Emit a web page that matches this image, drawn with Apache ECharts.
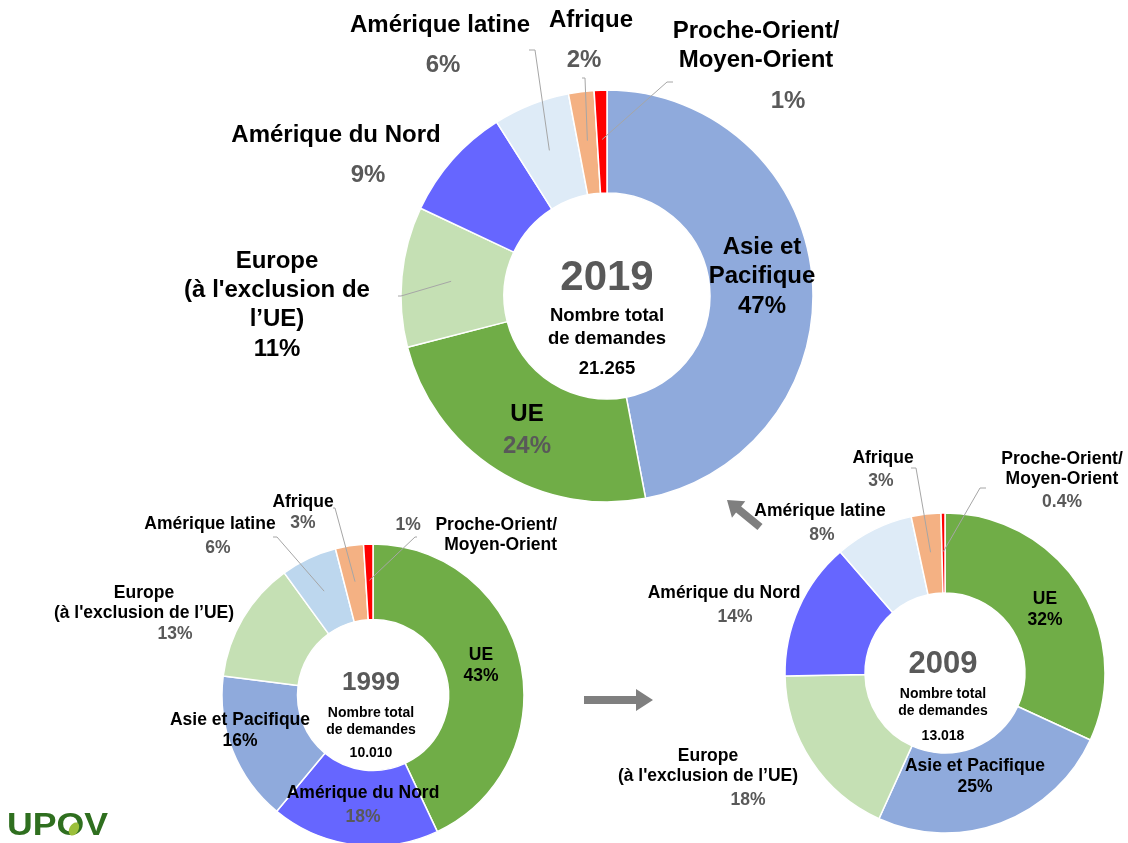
<!DOCTYPE html>
<html>
<head>
<meta charset="utf-8">
<script src="https://cdn.jsdelivr.net/npm/echarts@6/dist/echarts.min.js"></script>
<style>
  html, body { margin: 0; padding: 0; background: #fff; }
  #chart { width: 1128px; height: 843px; }
</style>
</head>
<body>
<div id="chart"></div>
<script>
// slices, clockwise from 12 o'clock
const names2019 = ['Asie et\nPacifique', 'UE', "Europe\n(à l'exclusion de\nl’UE)", 'Amérique du Nord', 'Amérique latine', 'Afrique', 'Proche-Orient/\nMoyen-Orient'];
const values2019 = [47, 24, 11, 9, 6, 2, 1];
const colors2019 = ['#8FAADC', '#70AD47', '#C5E0B4', '#6666FF', '#DEEBF7', '#F4B183', '#FF0000'];

const names1999 = ['UE', 'Amérique du Nord', 'Asie et Pacifique', "Europe\n(à l'exclusion de l’UE)", 'Amérique latine', 'Afrique', 'Proche-Orient/\nMoyen-Orient'];
const values1999 = [43, 18, 16, 13, 6, 3, 1];
const colors1999 = ['#70AD47', '#6666FF', '#8FAADC', '#C5E0B4', '#BDD7EE', '#F4B183', '#FF0000'];

const names2009 = ['UE', 'Asie et Pacifique', "Europe\n(à l'exclusion de l’UE)", 'Amérique du Nord', 'Amérique latine', 'Afrique', 'Proche-Orient/\nMoyen-Orient'];
const values2009 = [32, 25, 18, 14, 8, 3, 0.4];
const colors2009 = ['#70AD47', '#8FAADC', '#C5E0B4', '#6666FF', '#DEEBF7', '#F4B183', '#FF0000'];

const years = ['1999', '2009', '2019'];
const totals = ['10.010', '13.018', '21.265'];

const FONT = "'Liberation Sans', Arial, sans-serif";

// label placement (layout only)
const lay2019 = [
  { x: 762, y: 277, plh: 31 },
  { x: 527, y: 432, gray: 1, plh: 35 },
  { x: 277, y: 306, plh: 31, bend: [401, 296], tail: -3 },
  { x: 336, y: 161, gray: 1, plh: 52, dx: 32 },
  { x: 440, y: 51, gray: 1, plh: 52, dx: 3, bend: [535, 50], tail: -6 },
  { x: 591, y: 46, gray: 1, plh: 52, dx: -7, bend: [585, 78], tail: -3 },
  { x: 756, y: 72, gray: 1, plh: 52, dx: 32, bend: [667, 82], tail: 6 }
];
const lay1999 = [
  { x: 481, y: 666, plh: 21 },
  { x: 363, y: 807, gray: 1, plh: 28 },
  { x: 240, y: 731, plh: 21 },
  { x: 144, y: 614, gray: 1, plh: 21, dx: 31 },
  { x: 210, y: 538, gray: 1, plh: 28, dx: 8, bend: [277, 537], tail: -4 },
  { x: 303, y: 513, gray: 1, plh: 21, bend: [335, 508], tail: -2 },
  { x: 557, y: 535, gray: 1, plh: 20, align: 'right', pctFirst: 1, bend: [415, 537], tail: 2 }
];
const lay2009 = [
  { x: 1045, y: 610, plh: 21 },
  { x: 975, y: 777, plh: 21 },
  { x: 708, y: 780, gray: 1, plh: 27, dx: 40 },
  { x: 724, y: 607, gray: 1, plh: 28, dx: 11 },
  { x: 820, y: 525, gray: 1, plh: 28, dx: 2 },
  { x: 883, y: 471, gray: 1, plh: 26, dx: -2, bend: [916, 468], tail: -5 },
  { x: 1062, y: 482, gray: 1, plh: 26, bend: [980, 488], tail: 6 }
];

// two pies per year: the coloured ring, and a transparent copy on top
// that carries labels and leader lines (so the lines show over the ring)
function makeSeries(names, values, colors, center, r, fs, lh, lay) {
  const common = {
    type: 'pie',
    center: center,
    radius: [r / 2, r],
    startAngle: 90,
    clockwise: true,
    avoidLabelOverlap: false,
    silent: true,
    emphasis: { disabled: true }
  };

  const ring = Object.assign({}, common, {
    z: 2,
    itemStyle: { borderColor: '#fff', borderWidth: 1.5 },
    label: { show: false },
    labelLine: { show: false },
    data: names.map((name, i) => ({ name: name, value: values[i], itemStyle: { color: colors[i] } }))
  });

  const labels = Object.assign({}, common, {
    z: 4,
    itemStyle: { color: 'rgba(0,0,0,0)', borderWidth: 0 },
    label: {
      show: true,
      position: 'outside',
      color: '#000',
      textBorderWidth: 0,
      fontFamily: FONT,
      fontWeight: 'bold',
      fontSize: fs,
      rich: {
        n: { fontFamily: FONT, fontWeight: 'bold', fontSize: fs, color: '#000', lineHeight: lh },
        p: { fontFamily: FONT, fontWeight: 'bold', fontSize: fs }
      }
    },
    labelLine: {
      show: true, showAbove: true, length: 5, length2: 5, smooth: false,
      lineStyle: { color: '#A6A6A6', width: 1 }
    },
    labelLayout: function (params) {
      const l = lay[params.dataIndex];
      const out = { x: l.x, y: l.y, align: l.align || 'center', verticalAlign: 'middle' };
      const pts = params.labelLinePoints;
      if (l.bend && pts) {
        // start the leader line in the middle of the ring
        const k = 0.76;
        const a = [center[0] + (pts[0][0] - center[0]) * k, center[1] + (pts[0][1] - center[1]) * k];
        out.labelLinePoints = [a, l.bend, [l.bend[0] + (l.tail || 0), l.bend[1]]];
      }
      return out;
    },
    data: names.map(function (name, i) {
      const l = lay[i];
      const parts = name.split('\n').map(s => '{n|' + s + '}');
      const pct = '{p|' + values[i] + '%}';
      let text;
      if (l.pctFirst) {
        parts[0] = pct + '{n|   }' + parts[0];
        text = parts.join('\n');
      } else {
        text = parts.join('\n') + '\n' + pct;
      }
      const d = l.dx || 0;
      return {
        name: name,
        value: values[i],
        label: {
          formatter: text,
          rich: {
            p: {
              color: l.gray ? '#595959' : '#000',
              lineHeight: l.plh,
              padding: d >= 0 ? [0, 0, 0, 2 * d] : [0, -2 * d, 0, 0]
            }
          }
        },
        labelLine: { show: !!l.bend }
      };
    })
  });

  return [ring, labels];
}

function centerText(x, y, year, total, yfs, ylh, tfs, tlh, vlh) {
  return {
    type: 'text', x: x, y: y, silent: true, z: 10,
    style: {
      text: '{y|' + year + '}\n{t|Nombre total}\n{t|de demandes}\n{v|' + total + '}',
      align: 'center', verticalAlign: 'middle',
      textAlign: 'center', textVerticalAlign: 'middle',
      rich: {
        y: { fontFamily: FONT, fontWeight: 'bold', fontSize: yfs, lineHeight: ylh, fill: '#595959', color: '#595959' },
        t: { fontFamily: FONT, fontWeight: 'bold', fontSize: tfs, lineHeight: tlh, fill: '#000', color: '#000' },
        v: { fontFamily: FONT, fontWeight: 'bold', fontSize: tfs, lineHeight: vlh, fill: '#000', color: '#000' }
      }
    }
  };
}

function arrow(x1, y1, x2, y2, sw, hw, hl) {
  const len = Math.hypot(x2 - x1, y2 - y1);
  const ux = (x2 - x1) / len, uy = (y2 - y1) / len;
  const nx = -uy, ny = ux;
  const bx = x2 - ux * hl, by = y2 - uy * hl;
  const p = (x, y, s) => [x + nx * s, y + ny * s];
  return [p(x1, y1, sw / 2), p(bx, by, sw / 2), p(bx, by, hw / 2), [x2, y2],
    p(bx, by, -hw / 2), p(bx, by, -sw / 2), p(x1, y1, -sw / 2)];
}

const chart = echarts.init(document.getElementById('chart'), null, { renderer: 'canvas' });

chart.setOption({
  backgroundColor: '#fff',
  animation: false,
  series: [].concat(
    makeSeries(names2019, values2019, colors2019, [607, 296], 206, 24, 29, lay2019),
    makeSeries(names1999, values1999, colors1999, [373, 695], 151, 17.5, 20, lay1999),
    makeSeries(names2009, values2009, colors2009, [945, 673], 160, 17.5, 20, lay2009)
  ),
  graphic: [
    centerText(607, 320, years[2], totals[2], 42, 52, 18.5, 23, 38),
    centerText(371, 714, years[0], totals[0], 26, 44, 14, 17, 28),
    centerText(943, 697, years[1], totals[1], 31, 44, 14, 17, 32),
    {
      type: 'polygon', silent: true,
      shape: { points: arrow(584, 700, 653, 700, 8, 22, 17) },
      style: { fill: '#7F7F7F' }
    },
    {
      type: 'polygon', silent: true,
      shape: { points: arrow(760, 527, 727, 500, 8, 21, 15) },
      style: { fill: '#7F7F7F' }
    },
    {
      type: 'text', x: 7, y: 826, scaleX: 1.15, silent: true,
      style: {
        text: 'UPOV', fontFamily: FONT, fontWeight: 'bold', fontSize: 31,
        fill: '#2F6F1F', align: 'left', verticalAlign: 'middle'
      }
    },
    {
      type: 'ellipse', silent: true, rotation: -0.5,
      x: 74, y: 829,
      shape: { cx: 0, cy: 0, rx: 4.5, ry: 7 },
      style: { fill: '#9BBF3A' }
    }
  ]
});
</script>
</body>
</html>
